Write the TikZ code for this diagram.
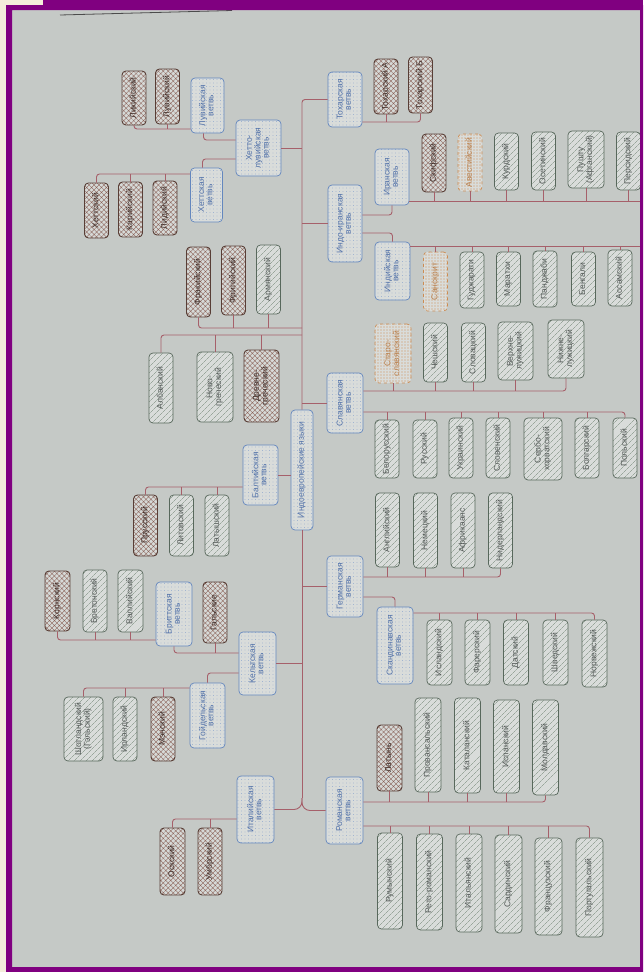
\documentclass[tikz,border=0pt]{standalone}
\usepackage{fontspec}
\setmainfont{Liberation Sans}
\usepackage{graphicx}
\usetikzlibrary{patterns.meta}
\definecolor{paper}{RGB}{197,201,198}
\definecolor{cream}{RGB}{244,237,219}
\definecolor{framec}{RGB}{128,0,128}
\definecolor{linkc}{RGB}{166,96,106}
\definecolor{bluec}{RGB}{100,135,190}
\definecolor{bluet}{RGB}{80,112,168}
\definecolor{brownc}{RGB}{88,62,54}
\definecolor{brownp}{RGB}{138,96,86}
\definecolor{livec}{RGB}{88,104,92}
\definecolor{livep}{RGB}{120,138,122}
\definecolor{livet}{RGB}{82,88,86}
\definecolor{orc}{RGB}{205,140,82}
\newcommand{\rottext}[1]{\rotatebox{90}{\renewcommand{\arraystretch}{0.85}\begin{tabular}{@{}c@{}}#1\end{tabular}}}

\begin{document}
\begin{tikzpicture}[
  x=1pt, y=-1pt,
  lbox/.style={rounded corners=4pt, inner sep=1pt, minimum width=24pt, minimum height=58pt, line width=0.7pt, font=\fontsize{8.5}{9.5}\selectfont},
  twoline/.style={minimum width=36pt},
  branch/.style={lbox, draw=bluec, preaction={fill=paper!65!white}, pattern={Dots[distance=3.5pt,radius=0.45pt]}, pattern color=bluec!80, text=bluet},
  live/.style={lbox, draw=livec, preaction={fill=paper!65!white}, pattern={Lines[angle=45,distance=4pt,line width=0.4pt]}, pattern color=livep, text=livet},
  extinct/.style={lbox, draw=brownc, line width=0.9pt, preaction={fill=paper!70!white}, pattern={Hatch[angle=45,distance=3.5pt,line width=0.35pt]}, pattern color=brownp, text=brownc!70!black},
  dead/.style={lbox, draw=orc, dashed, preaction={fill=paper!65!white}, pattern={Dots[distance=3pt,radius=0.55pt]}, pattern color=orc, text=orc!90!black},
  link/.style={draw=linkc, line width=0.9pt, rounded corners=3pt}
]
\useasboundingbox (0,0) rectangle (643,972);
\fill[cream] (0,0) rectangle (643,972);
\fill[paper] (12,10) rectangle (640,967);
\draw[gray!60!black, line width=0.8pt] (60,15) -- (232,10.5);

\coordinate (trunk) at (302,0);
\coordinate (fork) at (302,798);

\node[branch, minimum width=22pt, minimum height=120pt, font=\fontsize{8.5}{10}\selectfont] (ie) at (302,470) {\rottext{Индоевропейские языки}};

\node[extinct, minimum height=54pt] (lyc) at (134,98) {\rottext{Ликийский}};
\node[extinct, minimum height=55pt] (luv) at (167.5,96.5) {\rottext{Лувийский}};
\node[branch, minimum width=33pt, minimum height=55pt] (luw) at (207.5,105.5) {\rottext{Лувийская\\ветвь}};
\node[extinct, minimum height=55pt] (hitt) at (96.5,210.5) {\rottext{Хеттский}};
\node[extinct, minimum height=55pt] (car) at (130.5,209.5) {\rottext{Карийский}};
\node[extinct, minimum height=54pt] (lyd) at (165,208) {\rottext{Лидийский}};
\node[branch, minimum width=32pt, minimum height=54pt] (hitb) at (206.5,195) {\rottext{Хеттская\\ветвь}};
\node[branch, minimum width=45pt, minimum height=56pt] (hl) at (258.5,148) {\rottext{Хетто-\\лувийская\\ветвь}};

\node[branch, minimum width=34pt, minimum height=55pt] (toch) at (345,99.5) {\rottext{Тохарская\\ветвь}};
\node[extinct, minimum height=55pt] (tA) at (386,86.5) {\rottext{Тохарский А}};
\node[extinct, minimum height=56pt] (tB) at (420.5,85) {\rottext{Тохарский Б}};

\node[branch, minimum width=34pt, minimum height=77pt] (ii) at (345,223.5) {\rottext{Индо-иранская\\ветвь}};
\node[branch, minimum width=34pt, minimum height=56pt] (iran) at (392,177) {\rottext{Иранская\\ветвь}};
\node[branch, minimum width=35pt, minimum height=58pt] (ind) at (392.5,271) {\rottext{Индийская\\ветвь}};
\node[extinct] (skif) at (434,163) {\rottext{Скифский}};
\node[dead, minimum height=57pt] (avest) at (470,162.5) {\rottext{Авестийский}};
\node[live, minimum height=57pt] (kurd) at (506.5,161.5) {\rottext{Курдский}};
\node[live] (oset) at (543.5,161) {\rottext{Осетинский}};
\node[live, twoline, minimum height=57pt] (push) at (586,159.5) {\rottext{Пушту\\(Афганский)}};
\node[live] (pers) at (628.5,161) {\rottext{Персидский}};
\node[dead, minimum height=59pt] (sansk) at (435.5,281.5) {\rottext{Санскрит}};
\node[live, minimum height=56pt] (guj) at (472,280) {\rottext{Гуджарати}};
\node[live, minimum height=54pt] (mar) at (508.5,279) {\rottext{Маратхи}};
\node[live, minimum height=56pt] (panj) at (545,279) {\rottext{Панджаби}};
\node[live, minimum height=54pt] (beng) at (583.5,279) {\rottext{Бенгали}};
\node[live, minimum height=56pt] (assam) at (620,278) {\rottext{Ассамский}};

\node[extinct, minimum height=70pt] (thr) at (198.5,282) {\rottext{Фракийский}};
\node[extinct, minimum height=69pt] (phr) at (233.5,280.5) {\rottext{Фригийский}};
\node[live, minimum height=69pt] (arm) at (268.5,279.5) {\rottext{Армянский}};
\node[live, minimum height=70pt] (alb) at (161,388) {\rottext{Албанский}};
\node[live, twoline, minimum height=70pt] (ngr) at (215,387) {\rottext{Ново-\\греческий}};
\node[extinct, minimum width=35pt, minimum height=72pt] (agr) at (261.5,386) {\rottext{Древне-\\греческий}};

\node[branch, minimum width=36pt, minimum height=60pt] (slav) at (345,403) {\rottext{Славянская\\ветвь}};
\node[dead, twoline, minimum height=59pt] (ocs) at (393,353.5) {\rottext{Старо-\\славянский}};
\node[live, minimum height=59pt] (cz) at (435.5,352.5) {\rottext{Чешский}};
\node[live, minimum height=59pt] (sk) at (473.5,352.5) {\rottext{Словацкий}};
\node[live, minimum width=35pt] (ups) at (515.5,351) {\rottext{Верхне-\\лужицкий}};
\node[live, twoline] (lws) at (566,349) {\rottext{Нижне-\\лужицкий}};
\node[live] (bel) at (387,449) {\rottext{Белорусский}};
\node[live] (rus) at (425,449) {\rottext{Русский}};
\node[live, minimum height=60pt] (ukr) at (461,448) {\rottext{Украинский}};
\node[live, minimum height=60pt] (slo) at (498,448) {\rottext{Словенский}};
\node[live, minimum width=38pt, minimum height=62pt] (sc) at (543,449) {\rottext{Сербо-\\хорватский}};
\node[live, minimum height=60pt] (bul) at (587,448) {\rottext{Болгарский}};
\node[live, minimum height=60pt] (pol) at (625,448) {\rottext{Польский}};

\node[branch, minimum width=35pt, minimum height=60pt] (balt) at (260.5,475) {\rottext{Балтийская\\ветвь}};
\node[extinct, minimum height=61pt] (prus) at (145.5,525.5) {\rottext{Прусский}};
\node[live, minimum height=61pt] (lit) at (181.5,525.5) {\rottext{Литовский}};
\node[live, minimum height=61pt] (latv) at (217,525.5) {\rottext{Латышский}};

\node[branch, minimum width=36pt, minimum height=61pt] (germ) at (345,586.5) {\rottext{Германская\\ветвь}};
\node[live, minimum height=74pt] (eng) at (387.5,530) {\rottext{Английский}};
\node[live, minimum height=75pt] (ger) at (425.5,530.5) {\rottext{Немецкий}};
\node[live, minimum height=75pt] (afr) at (463,530.5) {\rottext{Африкаанс}};
\node[live, minimum height=75pt] (dut) at (500.5,530.5) {\rottext{Нидерландский}};
\node[branch, minimum width=36pt, minimum height=77pt] (scand) at (395,645.5) {\rottext{Скандинавская\\ветвь}};
\node[live, minimum width=25pt, minimum height=65pt] (ice) at (439.5,652.5) {\rottext{Исландский}};
\node[live, minimum width=25pt, minimum height=65pt] (far) at (477.5,652.5) {\rottext{Фарерский}};
\node[live, minimum width=25pt, minimum height=65pt] (dan) at (516,652.5) {\rottext{Датский}};
\node[live, minimum width=25pt, minimum height=65pt] (swe) at (555.5,652.5) {\rottext{Шведский}};
\node[live, minimum width=25pt, minimum height=67pt] (nor) at (594.5,653.5) {\rottext{Норвежский}};

\node[branch, minimum width=37pt, minimum height=63pt] (celt) at (257.5,663.5) {\rottext{Кельтская\\ветвь}};
\node[branch, minimum width=36pt, minimum height=64pt] (brit) at (174,614) {\rottext{Бриттская\\ветвь}};
\node[extinct, minimum height=61pt] (gaul) at (215,612.5) {\rottext{Гальские}};
\node[extinct, minimum width=25pt, minimum height=60pt] (corn) at (57.5,601) {\rottext{Корнский}};
\node[live, minimum height=62pt] (bret) at (95,601) {\rottext{Бретонский}};
\node[live, minimum width=25pt, minimum height=62pt] (wel) at (130.5,601) {\rottext{Валлийский}};
\node[branch, minimum width=35pt, minimum height=65pt] (goid) at (207.5,715.5) {\rottext{Гойдельская\\ветвь}};
\node[live, minimum width=39pt, minimum height=64pt] (scot) at (83.5,729) {\rottext{Шотландский\\(Гэльский)}};
\node[live, minimum height=64pt] (iri) at (125,729) {\rottext{Ирландский}};
\node[extinct, minimum height=64pt] (manx) at (163,729) {\rottext{Мэнский}};

\node[branch, minimum width=37pt, minimum height=67pt] (itl) at (255.5,809.5) {\rottext{Италийская\\ветвь}};
\node[extinct, minimum width=25pt, minimum height=67pt] (osc) at (172.5,861.5) {\rottext{Оскский}};
\node[extinct, minimum height=67pt] (umb) at (210,861.5) {\rottext{Умбрский}};

\node[branch, minimum width=37pt, minimum height=67pt] (rom) at (344.5,810.5) {\rottext{Романская\\ветвь}};
\node[extinct, minimum width=25pt, minimum height=66pt] (lat) at (389.5,758) {\rottext{Латынь}};
\node[live, minimum width=26pt, minimum height=94pt] (prov) at (428,745) {\rottext{Провансальский}};
\node[live, minimum width=26pt, minimum height=95pt] (cat) at (467.5,745.5) {\rottext{Каталанский}};
\node[live, minimum width=26pt, minimum height=93pt] (spa) at (506.5,746.5) {\rottext{Испанский}};
\node[live, minimum width=26pt, minimum height=95pt] (mol) at (545.5,747.5) {\rottext{Молдавский}};
\node[live, minimum width=25pt, minimum height=96pt] (rum) at (390,881) {\rottext{Румынский}};
\node[live, minimum width=26pt, minimum height=96pt] (reto) at (429.5,882) {\rottext{Рето-романский}};
\node[live, minimum width=26pt, minimum height=98pt] (ita) at (469,883) {\rottext{Итальянский}};
\node[live, minimum width=27pt, minimum height=98pt] (sard) at (508.5,884) {\rottext{Сардинский}};
\node[live, minimum width=27pt, minimum height=97pt] (fr) at (548.5,886.5) {\rottext{Французский}};
\node[live, minimum width=27pt, minimum height=99pt] (por) at (589.5,887.5) {\rottext{Португальский}};

\coordinate (iranend) at (640,201);
\coordinate (indend) at (640,246);

\draw[link] (toch.west) -| (ie.north);
\draw[link] (ie.south) -- (fork);
\draw[link, rounded corners=8pt] (fork) |- (rom.west);
\draw[link, rounded corners=8pt] (fork) |- (itl.east);

\draw[link] (lyc.south) |- (luw.west |- 0,129);
\draw[link] (luv.south) -- (luv.south |- 0,129);
\draw[link] ([xshift=-4pt]luw.south) |- (hl.west |- 0,140);
\draw[link] ([xshift=-4pt]hitb.north) |- (hl.west |- 0,159);
\draw[link] (hitb.west |- 0,174) -| (hitt.north);
\draw[link] (car.north) -- (car.north |- 0,174);
\draw[link] (lyd.north) -- (lyd.north |- 0,174);
\draw[link] (hl.east) -- (hl.east -| trunk);

\draw[link] (toch.east |- 0,122) -| (tB.south);
\draw[link] (tA.south) -- (tA.south |- 0,122);

\draw[link] (ii.west) -- (ii.west -| trunk);
\draw[link] (ii.east |- 0,215) -| (iran.south);
\draw[link] (ii.east |- 0,233) -| (ind.north);
\draw[link] (iran.east |- iranend) -- (iranend);
\draw[link] (skif.south) -- (skif.south |- iranend);
\draw[link] (avest.south) -- (avest.south |- iranend);
\draw[link] (kurd.south) -- (kurd.south |- iranend);
\draw[link] (oset.south) -- (oset.south |- iranend);
\draw[link] (push.south) -- (push.south |- iranend);
\draw[link] (pers.south) -- (pers.south |- iranend);
\draw[link] (ind.east |- indend) -- (indend);
\draw[link] (sansk.north) -- (sansk.north |- indend);
\draw[link] (guj.north) -- (guj.north |- indend);
\draw[link] (mar.north) -- (mar.north |- indend);
\draw[link] (panj.north) -- (panj.north |- indend);
\draw[link] (beng.north) -- (beng.north |- indend);
\draw[link] (assam.north) -- (assam.north |- indend);

\draw[link] (trunk |- 0,328) -| (thr.south);
\draw[link] (phr.south) -- (phr.south |- 0,328);
\draw[link] (arm.south) -- (arm.south |- 0,328);
\draw[link] (trunk |- 0,335) -| (alb.north);
\draw[link] (ngr.north) -- (ngr.north |- 0,335);
\draw[link] (agr.north) -- (agr.north |- 0,335);

\draw[link] (slav.west) -- (slav.west -| trunk);
\draw[link] (slav.east |- 0,391) -| (lws.south);
\draw[link] (ocs.south) -- (ocs.south |- 0,391);
\draw[link] (cz.south) -- (cz.south |- 0,391);
\draw[link] (sk.south) -- (sk.south |- 0,391);
\draw[link] (ups.south) -- (ups.south |- 0,391);
\draw[link] (slav.east |- 0,412) -| (pol.north);
\draw[link] (bel.north) -- (bel.north |- 0,412);
\draw[link] (rus.north) -- (rus.north |- 0,412);
\draw[link] (ukr.north) -- (ukr.north |- 0,412);
\draw[link] (slo.north) -- (slo.north |- 0,412);
\draw[link] (sc.north) -- (sc.north |- 0,412);
\draw[link] (bul.north) -- (bul.north |- 0,412);

\draw[link] (balt.east) -- (balt.east -| ie.west);
\draw[link] (balt.west |- 0,487) -| (prus.north);
\draw[link] (lit.north) -- (lit.north |- 0,487);
\draw[link] (latv.north) -- (latv.north |- 0,487);

\draw[link] (germ.west) -- (germ.west -| trunk);
\draw[link] (germ.east |- 0,577) -| (dut.south);
\draw[link] (eng.south) -- (eng.south |- 0,577);
\draw[link] (ger.south) -- (ger.south |- 0,577);
\draw[link] (afr.south) -- (afr.south |- 0,577);
\draw[link] (germ.east |- 0,597) -| (scand.north);
\draw[link] (scand.east |- 0,613) -| (nor.north);
\draw[link] (ice.north) -- (ice.north |- 0,613);
\draw[link] (far.north) -- (far.north |- 0,613);
\draw[link] (dan.north) -- (dan.north |- 0,613);
\draw[link] (swe.north) -- (swe.north |- 0,613);

\draw[link] (celt.east) -- (celt.east -| trunk);
\draw[link] (celt.west |- 0,653) -| (brit.south);
\draw[link] (gaul.south) -- (gaul.south |- 0,653);
\draw[link] (brit.west |- 0,640) -| (corn.south);
\draw[link] (bret.south) -- (bret.south |- 0,640);
\draw[link] (wel.south) -- (wel.south |- 0,640);
\draw[link] (celt.west |- 0,673) -| (goid.north);
\draw[link] (goid.west |- 0,688) -| (scot.north);
\draw[link] (iri.north) -- (iri.north |- 0,688);
\draw[link] (manx.north) -- (manx.north |- 0,688);

\draw[link] (itl.west |- 0,819) -| (osc.north);
\draw[link] (umb.north) -- (umb.north |- 0,819);

\draw[link] (rom.east |- 0,802) -| (mol.south);
\draw[link] (lat.south) -- (lat.south |- 0,802);
\draw[link] (prov.south) -- (prov.south |- 0,802);
\draw[link] (cat.south) -- (cat.south |- 0,802);
\draw[link] (spa.south) -- (spa.south |- 0,802);
\draw[link] (rom.east |- 0,826) -| (por.north);
\draw[link] (rum.north) -- (rum.north |- 0,826);
\draw[link] (reto.north) -- (reto.north |- 0,826);
\draw[link] (ita.north) -- (ita.north |- 0,826);
\draw[link] (sard.north) -- (sard.north |- 0,826);
\draw[link] (fr.north) -- (fr.north |- 0,826);

\fill[framec, even odd rule] (6,5) rectangle (643,972) (12,10) rectangle (640,967);
\fill[framec] (43,0) rectangle (643,5);
\end{tikzpicture}
\end{document}
